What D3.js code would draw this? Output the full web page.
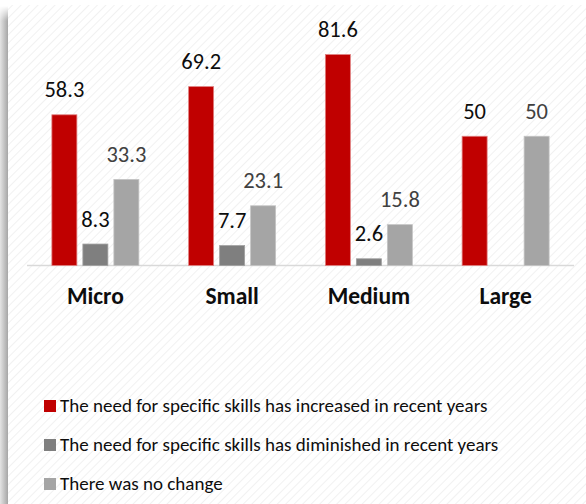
<!DOCTYPE html>
<html>
<head>
<meta charset="utf-8">
<script src="https://cdn.jsdelivr.net/npm/d3@7/dist/d3.min.js"></script>
<style>
  html, body { margin: 0; padding: 0; background: #ffffff; }
  svg { display: block; font-family: Calibri, Carlito, Lato, sans-serif; }
</style>
</head>
<body>
<svg id="chart" width="586" height="504"></svg>
<script>
// Firm size categories and the share of answers per series (%)
const categories = ["Micro", "Small", "Medium", "Large"];
const increased  = [58.3, 69.2, 81.6, 50];
const diminished = [8.3, 7.7, 2.6, null];
const noChange   = [33.3, 23.1, 15.8, 50];

const seriesNames = [
  "The need for specific skills has increased in recent years",
  "The need for specific skills has diminished in recent years",
  "There was no change"
];
const seriesKeys = ["increased", "diminished", "noChange"];
const seriesValues = [increased, diminished, noChange];
const fills   = ["#c00000", "#7f7f7f", "#a5a5a5"];
const strokes = ["#e08080", "#a0a0a0", "#c4c4c4"];
const labelColors = ["#0d0d0d", "#0d0d0d", "#404040"];

const W = 586, H = 504;
const svg = d3.select("#chart");
const defs = svg.append("defs");

// Faint diagonal hatch background
const pat = defs.append("pattern")
  .attr("id", "hatch")
  .attr("patternUnits", "userSpaceOnUse")
  .attr("width", 6).attr("height", 6)
  .attr("patternTransform", "rotate(45)");
pat.append("rect").attr("width", 6).attr("height", 6).attr("fill", "#ffffff");
pat.append("line").attr("x1", 0).attr("y1", 0).attr("x2", 0).attr("y2", 6)
  .attr("stroke", "#f1f1f1").attr("stroke-width", 2);

svg.append("rect").attr("width", W).attr("height", H).attr("fill", "#ffffff");
svg.append("rect").attr("x", 8).attr("y", 5).attr("width", W - 8).attr("height", H - 5)
  .attr("fill", "url(#hatch)");

// Soft shadow along the left edge
const hg = defs.append("linearGradient").attr("id", "shadeH")
  .attr("x1", "0%").attr("x2", "100%").attr("y1", "0%").attr("y2", "0%");
hg.append("stop").attr("offset", "0%").attr("stop-color", "#e4e4e4");
hg.append("stop").attr("offset", "100%").attr("stop-color", "#a6a6a6");
const vg = defs.append("linearGradient").attr("id", "shadeV")
  .attr("x1", "0%").attr("x2", "0%").attr("y1", "0%").attr("y2", "100%");
vg.append("stop").attr("offset", "0%").attr("stop-color", "#fff").attr("stop-opacity", 0);
vg.append("stop").attr("offset", "3%").attr("stop-color", "#fff").attr("stop-opacity", 1);
vg.append("stop").attr("offset", "100%").attr("stop-color", "#fff").attr("stop-opacity", 1);
const mask = defs.append("mask").attr("id", "shadeMask");
mask.append("rect").attr("x", 0).attr("y", 6).attr("width", 8).attr("height", H - 6)
  .attr("fill", "url(#shadeV)");
svg.append("rect").attr("x", 0).attr("y", 6).attr("width", 8).attr("height", H - 6)
  .attr("fill", "url(#shadeH)").attr("mask", "url(#shadeMask)");

// Scales
const baseY = 265.5;
const y = d3.scaleLinear().domain([0, 90]).range([baseY, baseY - 90 * 2.585]);
const x0 = d3.scaleBand().domain(categories).range([27, 574]).padding(0);
const bw = x0.bandwidth();
const x1 = d3.scaleBand().domain(seriesKeys)
  .range([bw / 2 - 43.5, bw / 2 + 43.5]).paddingInner(6 / 31).paddingOuter(0);

// Category axis
const axis = d3.axisBottom(x0).tickSize(0).tickPadding(0);
const gAxis = svg.append("g").attr("transform", `translate(0,${baseY})`).call(axis);
gAxis.select(".domain").attr("stroke", "#d9d9d9").attr("stroke-width", 1.6)
  .attr("d", `M${x0.range()[0]},0H${x0.range()[1]}`);
gAxis.selectAll(".tick text")
  .attr("y", 38.5).attr("dy", null)
  .attr("font-family", "Calibri, Carlito, Lato, sans-serif")
  .attr("font-size", 23.5).attr("font-weight", "bold").attr("fill", "#0d0d0d");

// Bars and value labels
const rows = [];
categories.forEach((c, i) => {
  seriesKeys.forEach((k, s) => {
    const v = seriesValues[s][i];
    if (v !== null && v !== undefined) rows.push({ cat: c, key: k, s, v });
  });
});

const groups = svg.append("g");
groups.selectAll("rect.bar").data(rows).join("rect")
  .attr("class", "bar")
  .attr("x", d => x0(d.cat) + x1(d.key))
  .attr("width", x1.bandwidth())
  .attr("y", d => y(d.v))
  .attr("height", d => y(0) - y(d.v))
  .attr("fill", d => fills[d.s])
  .attr("stroke", d => strokes[d.s])
  .attr("stroke-width", 0.8);

groups.selectAll("text.val").data(rows).join("text")
  .attr("class", "val")
  .attr("x", d => x0(d.cat) + x1(d.key) + x1.bandwidth() / 2)
  .attr("y", d => y(d.v) - 17.5)
  .attr("text-anchor", "middle")
  .attr("font-size", 22.5)
  .attr("fill", d => labelColors[d.s])
  .text(d => d.v);

// Legend
const legend = svg.append("g");
const legendY = [412, 451, 490];
seriesNames.forEach((name, i) => {
  legend.append("rect")
    .attr("x", 44).attr("y", legendY[i] - 12)
    .attr("width", 12).attr("height", 12)
    .attr("fill", fills[i]);
  legend.append("text")
    .attr("x", 60).attr("y", legendY[i])
    .attr("font-size", 19)
    .attr("fill", "#0d0d0d")
    .text(name);
});
</script>
</body>
</html>
